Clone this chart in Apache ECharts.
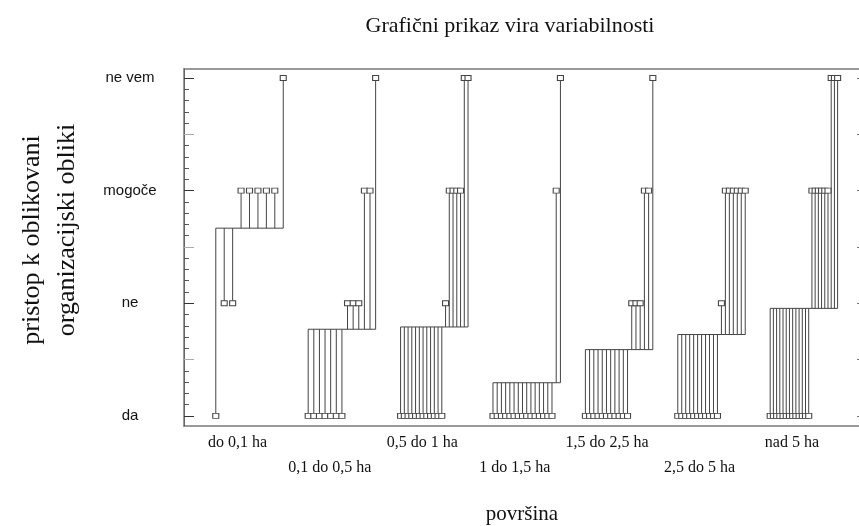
<!DOCTYPE html>
<html>
<head>
<meta charset="utf-8">
<script src="https://cdn.jsdelivr.net/npm/echarts@6/dist/echarts.min.js"></script>
<style>
html,body{margin:0;padding:0;background:#fff;}
#chart{width:859px;height:526px;}
</style>
</head>
<body>
<div id="chart"></div>
<script>
// ---- data ----
const categories = ['do 0,1 ha','0,1 do 0,5 ha','0,5 do 1 ha','1 do 1,5 ha','1,5 do 2,5 ha','2,5 do 5 ha','nad 5 ha'];
const levelLabels = ['da','ne','mogoče','ne vem']; // coded 1..4
const countDa     = [1, 7, 12, 15, 11, 11, 13];
const countNe     = [2, 3, 1, 0, 3, 1, 0];
const countMogoce = [5, 2, 4, 1, 2, 6, 6];
const countNeVem  = [1, 1, 2, 1, 1, 0, 3];

// ---- build observations per group (sorted by response) ----
const groupWidth = 0.73;
const pointData = [], stemData = [], meanData = [];
categories.forEach(function (c, i) {
  const vals = [];
  [countDa, countNe, countMogoce, countNeVem].forEach(function (arr, k) {
    for (let j = 0; j < arr[i]; j++) vals.push(k + 1);
  });
  const n = vals.length;
  const mean = vals.reduce(function (a, b) { return a + b; }, 0) / n;
  const x0 = i - groupWidth / 2;
  const step = n > 1 ? groupWidth / (n - 1) : 0;
  vals.forEach(function (v, j) {
    const x = x0 + step * j;
    pointData.push([x, v]);
    stemData.push([x, v, mean]);
  });
  meanData.push([x0, mean, x0 + step * (n - 1)]);
});

const minorTicks = [], halfTicks = [], rightTicks = [];
for (let k = 10; k <= 40; k++) {
  const v = k / 10;
  if (k % 5 !== 0) minorTicks.push(v);
  else if (k % 10 !== 0) halfTicks.push(v);
  if (k % 5 === 0) rightTicks.push(v);
}

const yMin = 0.91, yMax = 4.08;
const xMin = -0.709, xMax = 6.618;

const chart = echarts.init(document.getElementById('chart'), null, {renderer: 'canvas'});
const yBase = {type: 'value', min: yMin, max: yMax, splitLine: {show: false}};
const xLabelStyle = {
  showMinLabel: true, showMaxLabel: true, hideOverlap: false,
  formatter: function (v) { return categories[Math.round(v)]; },
  fontFamily: 'Liberation Serif', fontSize: 16, color: '#111',
  padding: [0, 24, 0, 0]
};
chart.setOption({
  animation: false,
  backgroundColor: '#fff',
  title: {
    text: 'Grafični prikaz vira variabilnosti',
    left: 505, top: 10, textAlign: 'center',
    textStyle: {fontFamily: 'Liberation Serif', fontWeight: 'normal', fontSize: 22, color: '#111'}
  },
  grid: {left: 184, top: 69, width: 677, height: 357, containLabel: false, outerBoundsMode: 'none',
    show: true, borderColor: '#9a9a9a', borderWidth: 2, backgroundColor: 'transparent'},
  xAxis: [
    {
      type: 'value', min: xMin, max: xMax, position: 'bottom',
      axisLine: {show: false, onZero: false}, axisTick: {show: false}, splitLine: {show: false},
      axisLabel: Object.assign({}, xLabelStyle, {customValues: [0, 2, 4, 6], margin: 9})
    },
    {
      type: 'value', min: xMin, max: xMax, position: 'bottom',
      axisLine: {show: false, onZero: false}, axisTick: {show: false}, splitLine: {show: false},
      axisLabel: Object.assign({}, xLabelStyle, {customValues: [1, 3, 5], margin: 34})
    }
  ],
  yAxis: [
    Object.assign({}, yBase, {
      position: 'left',
      axisLine: {show: true, onZero: false, lineStyle: {color: '#666', width: 1}},
      axisTick: {show: true, inside: true, length: 10, customValues: [1, 2, 3, 4], lineStyle: {color: '#333'}},
      axisLabel: {customValues: [1, 2, 3, 4], formatter: function (v) { return levelLabels[Math.round(v) - 1]; },
        fontFamily: 'Liberation Sans', fontSize: 15, color: '#111', align: 'center', margin: 54}
    }),
    Object.assign({}, yBase, {
      position: 'left', axisLine: {show: false, onZero: false}, axisLabel: {show: false},
      axisTick: {show: true, inside: true, length: 10, customValues: halfTicks, lineStyle: {color: '#aaa'}}
    }),
    Object.assign({}, yBase, {
      position: 'left', axisLine: {show: false, onZero: false}, axisLabel: {show: false},
      axisTick: {show: true, inside: true, length: 5, customValues: minorTicks, lineStyle: {color: '#555'}}
    }),
    Object.assign({}, yBase, {
      position: 'right', axisLine: {show: false, onZero: false}, axisLabel: {show: false},
      axisTick: {show: true, inside: true, length: 4, customValues: rightTicks, lineStyle: {color: '#777'}}
    })
  ],
  graphic: [
    {type: 'text', x: 32, y: 240, rotation: Math.PI / 2,
      style: {text: 'pristop k oblikovani', font: '26px "Liberation Serif"', fill: '#111', textAlign: 'center', textVerticalAlign: 'middle'}},
    {type: 'text', x: 67, y: 230, rotation: Math.PI / 2,
      style: {text: 'organizacijski obliki', font: '26px "Liberation Serif"', fill: '#111', textAlign: 'center', textVerticalAlign: 'middle'}},
    {type: 'text', x: 522, y: 514,
      style: {text: 'površina', font: '21px "Liberation Serif"', fill: '#111', textAlign: 'center', textVerticalAlign: 'middle'}}
  ],
  series: [
    {
      type: 'custom', name: 'stems', data: stemData, z: 2,
      encode: {x: 0, y: [1, 2]},
      renderItem: function (params, api) {
        const p1 = api.coord([api.value(0), api.value(1)]);
        const p2 = api.coord([api.value(0), api.value(2)]);
        return {type: 'line', shape: {x1: p1[0], y1: p1[1], x2: p2[0], y2: p2[1]}, style: {stroke: '#444', lineWidth: 1}};
      }
    },
    {
      type: 'custom', name: 'means', data: meanData, z: 2,
      encode: {x: [0, 2], y: 1},
      renderItem: function (params, api) {
        const p1 = api.coord([api.value(0), api.value(1)]);
        const p2 = api.coord([api.value(2), api.value(1)]);
        return {type: 'line', shape: {x1: p1[0], y1: p1[1], x2: p2[0], y2: p2[1]}, style: {stroke: '#444', lineWidth: 1}};
      }
    },
    {
      type: 'scatter', name: 'obs', data: pointData, z: 3,
      symbol: 'rect', symbolSize: [6, 5],
      itemStyle: {color: '#fff', borderColor: '#444', borderWidth: 1, opacity: 1}
    }
  ]
});
</script>
</body>
</html>
